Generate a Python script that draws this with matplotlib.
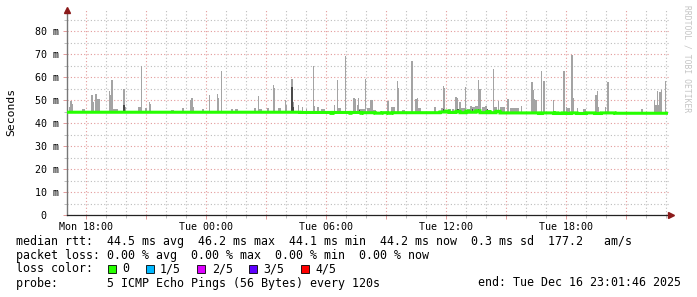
import numpy as np
import matplotlib
matplotlib.use("Agg")
from matplotlib import pyplot as plt
from matplotlib.patches import Rectangle

# graph runs in 3 minute steps, first step is Mon 17:03 (hours relative to Mon 18:00)
step_h = 0.05
start_h = -0.95
n_steps = 601

# smoke: first step, number of steps, highest ping of the step (ms)
smoke_start = [2, 3, 5, 15, 24, 26, 28, 30, 42, 43, 44, 46, 56, 58, 71, 74, 78, 82, 83,
               104, 115, 123, 124, 126, 135, 142, 150, 151, 154, 164, 168, 187, 191, 192,
               200, 206, 207, 211, 218, 219, 224, 226, 231, 235, 239, 246, 247, 250, 254,
               256, 267, 270, 271, 278, 286, 288, 290, 291, 292, 298, 300, 303, 306, 320,
               324, 330, 331, 335, 344, 348, 350, 351, 367, 374, 376, 377, 381, 385, 388,
               390, 392, 394, 398, 400, 403, 405, 408, 411, 412, 415, 418, 426, 427, 431,
               433, 440, 443, 450, 454, 464, 466, 467, 468, 474, 476, 486, 496, 499, 500,
               504, 506, 510, 516, 528, 530, 531, 538, 540, 574, 587, 588, 590, 591, 592,
               594, 598]
smoke_len = [1, 2, 1, 3, 2, 1, 2, 3, 1, 1, 2, 5, 2, 1, 3, 1, 2, 1, 1,
             3, 2, 1, 2, 1, 2, 1, 1, 1, 1, 2, 3, 2, 1, 3,
             2, 1, 1, 3, 1, 1, 2, 1, 1, 1, 1, 1, 1, 2, 2,
             2, 1, 1, 3, 1, 2, 1, 1, 1, 6, 1, 3, 3, 3, 2,
             4, 1, 1, 3, 2, 2, 1, 3, 2, 2, 1, 1, 3, 2, 2,
             1, 2, 4, 1, 3, 2, 3, 3, 1, 2, 3, 2, 1, 3, 1,
             5, 2, 9, 2, 1, 2, 1, 1, 2, 1, 2, 1, 2, 1, 3,
             2, 1, 1, 3, 2, 1, 1, 1, 2, 2, 1, 2, 1, 1, 2,
             1, 1]
smoke_top = [47, 49.8, 48.3, 46, 52.3, 49.4, 52.7, 50.5, 54, 52.3, 58.8, 46, 54.9, 47, 47, 65, 46.5, 49.2, 48.3,
             45.8, 46.5, 50, 51.2, 47, 46, 52.1, 52.7, 50.8, 62.7, 46, 46, 46.5, 51.8, 46,
             46.5, 56.6, 55.2, 46.8, 50, 48, 59.2, 49.4, 47.8, 47, 46, 64.9, 47.5, 47, 46.3,
             46, 47.9, 58.8, 46.5, 69.4, 51.2, 50.6, 48, 51, 46.2, 59.2, 46.5, 50, 45.8, 49.8,
             47, 58.4, 55.2, 45.8, 67.1, 50.5, 51.2, 46.5, 47, 46.5, 56.2, 55.2, 46.2, 46.2, 51.4,
             51.2, 49.4, 46.5, 55.8, 46.2, 47.5, 47, 47.5, 58.8, 54.9, 47, 47.5, 63.6, 47, 49.8,
             47, 50.5, 46.5, 46.5, 47.5, 57.9, 54.7, 50.5, 50, 62.7, 58.4, 50, 62.7, 47, 46.5,
             69.7, 50.8, 46.8, 46.3, 52.3, 54, 47, 47, 57.9, 46.3, 50, 48, 54.2, 48, 53.6,
             54.3, 58.4]

# steps where several pings agree (darker smoke)
dark_start = [56, 224, 225, 292, 376, 390, 405, 411, 420, 428]
dark_len = [2, 2, 2, 1, 1, 2, 1, 1, 1, 1]
dark_top = [48, 55.8, 47, 45.8, 46, 46, 46.2, 46.3, 46, 45.9]

# median rtt, step where a new value starts (ms)
med_start = [0, 233, 264, 266, 283, 284, 294, 295, 308, 315, 321, 325, 373, 379, 382, 389,
             393, 399, 402, 409, 413, 420, 423, 429, 433, 472, 475, 487, 488, 491, 495, 499,
             504, 510, 519, 528, 534, 548]
med_val = [44.8, 44.7, 44.3, 44.7, 44.35, 44.7, 44.35, 44.6, 44.4, 44.6, 44.35, 44.6, 44.9, 45.3,
           44.7, 45.2, 44.6, 45.3, 44.8, 45.4, 44.6, 45.1, 44.6, 45.2, 44.5, 44.25, 44.5, 44.25,
           44.5, 44.25, 44.5, 44.25, 44.5, 44.25, 44.5, 44.25, 44.5, 44.35]

tick_hours = [0, 6, 12, 18, 24]
tick_labels = ["Mon 18:00", "Tue 00:00", "Tue 06:00", "Tue 12:00", "Tue 18:00"]
y_ticks = [0, 10, 20, 30, 40, 50, 60, 70, 80]
y_labels = ["0  ", "10 m", "20 m", "30 m", "40 m", "50 m", "60 m", "70 m", "80 m"]

loss_labels = ["0", "1/5", "2/5", "3/5", "4/5"]
loss_colors = ["#26ff00", "#00b8ff", "#dd00ff", "#5e00ff", "#ff0000"]

rtt_line = "median rtt:  44.5 ms avg  46.2 ms max  44.1 ms min  44.2 ms now  0.3 ms sd  177.2   am/s"
loss_line = "packet loss: 0.00 % avg  0.00 % max  0.00 % min  0.00 % now"
probe_line = "probe:       5 ICMP Echo Pings (56 Bytes) every 120s"
end_line = "end: Tue Dec 16 23:01:46 2025"

W, H = 697, 297
mono = "DejaVu Sans Mono"

fig = plt.figure(figsize=(W / 100, H / 100), dpi=100)
fig.patch.set_facecolor("white")
ax = fig.add_axes([67 / W, 1 - 215 / H, 602 / W, 205 / H])
ax.set_facecolor("white")

edges = start_h + step_h * np.arange(n_steps + 1)
med = np.repeat(med_val, np.diff(med_start + [n_steps]))

bx = start_h + step_h * np.array(smoke_start)
bot = med[smoke_start] - 0.3
ax.bar(bx, np.array(smoke_top) - bot, width=step_h * np.array(smoke_len), bottom=bot,
       align="edge", color="#a4a4a4", linewidth=0, zorder=2)
dx = start_h + step_h * np.array(dark_start)
dbot = med[dark_start] - 0.3
ax.bar(dx, np.array(dark_top) - dbot, width=step_h * np.array(dark_len), bottom=dbot,
       align="edge", color="#4a4a4a", linewidth=0, zorder=3)

ax.stairs(med, edges, baseline=None, color="#26ff00", linewidth=2.2, zorder=4)

xmax = (669 - 86) / 20
ymax = 205 / 2.294
ax.set_xlim(start_h, xmax)
ax.set_ylim(0, ymax)

ax.set_xticks(np.arange(0, 28, 3))
ax.set_xticklabels([tick_labels[tick_hours.index(h)] if h in tick_hours else "" for h in range(0, 28, 3)],
                   fontfamily=mono, fontsize=7.2)
ax.set_xticks(np.arange(-0, 30, 1), minor=True)
ax.set_yticks(y_ticks)
ax.set_yticklabels(y_labels, fontfamily=mono, fontsize=7.2)
ax.set_yticks(np.arange(5, 90, 10), minor=True)

ax.grid(which="major", color="#e39a9a", linestyle=(0, (1, 2)), linewidth=0.8, zorder=0)
ax.grid(which="minor", color="#bdbdbd", linestyle=(0, (1, 2)), linewidth=0.8, zorder=0)
ax.set_axisbelow(True)
ax.tick_params(which="major", length=3, width=0.7, color="#e39a9a", pad=2)
ax.tick_params(which="minor", length=2, width=0.7, color="#bdbdbd")
ax.tick_params(axis="y", pad=3)

for s in ["top", "right"]:
    ax.spines[s].set_visible(False)
ax.spines["left"].set_color("#777777")
ax.spines["left"].set_linewidth(1.0)
ax.spines["bottom"].set_color("#222222")
ax.spines["bottom"].set_linewidth(0.9)
ax.spines["left"].set_bounds(0, ymax)
ax.plot([start_h], [ymax], marker="^", markersize=4, color="#8b1a1a", clip_on=False, zorder=6)
ax.plot([xmax + 0.1], [0], marker=">", markersize=4, color="#8b1a1a", clip_on=False, zorder=6)

fig.text(11 / W, 1 - 112 / H, "Seconds", rotation=90, ha="center", va="center",
         fontfamily=mono, fontsize=8.2)
fig.text(687 / W, 1 - 5 / H, "RRDTOOL / TOBI OETIKER", rotation=270, ha="center", va="top",
         fontfamily=mono, fontsize=5.8, color="#c4c4c4")

rows = [241, 255, 269, 283]
fig.text(16 / W, 1 - rows[0] / H, rtt_line, ha="left", va="center", fontfamily=mono, fontsize=8.4)
fig.text(16 / W, 1 - rows[1] / H, loss_line, ha="left", va="center", fontfamily=mono, fontsize=8.4)
fig.text(16 / W, 1 - rows[2] / H, "loss color:", ha="left", va="center", fontfamily=mono, fontsize=8.4)
fig.text(16 / W, 1 - rows[3] / H, probe_line, ha="left", va="center", fontfamily=mono, fontsize=8.4)
fig.text(681 / W, 1 - rows[3] / H, end_line, ha="right", va="center", fontfamily=mono, fontsize=8.4)

px = 108
for lab, col in zip(loss_labels, loss_colors):
    fig.add_artist(Rectangle((px / W, 1 - (rows[2] + 4) / H), 8 / W, 8 / H, transform=fig.transFigure,
                             facecolor=col, edgecolor="black", linewidth=0.6))
    fig.text((px + 14.5) / W, 1 - rows[2] / H, lab, ha="left", va="center", fontfamily=mono, fontsize=8.4)
    px += 14.5 + len(lab) * 7.05 + 16

fig.savefig("out.png", dpi=100)
